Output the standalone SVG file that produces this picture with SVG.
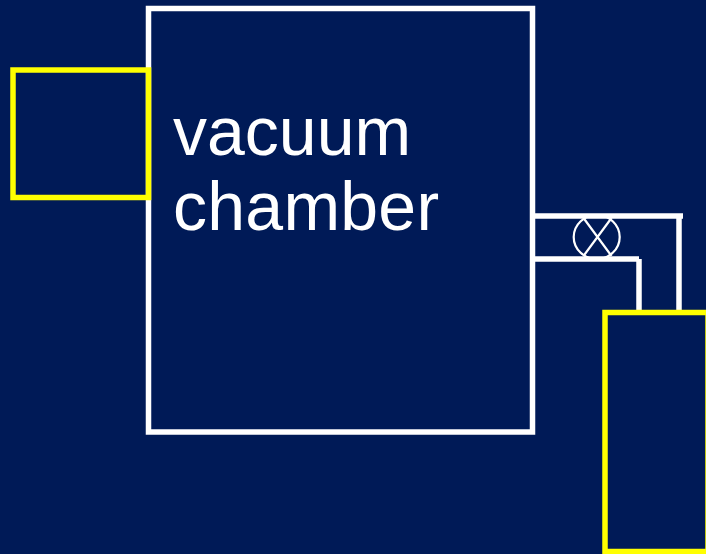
<svg xmlns="http://www.w3.org/2000/svg" width="706" height="554" viewBox="0 0 706 554">
<style>
.w{fill:none;stroke:#fff;stroke-width:5.5}
.y{fill:none;stroke:#ff0;stroke-width:5.5}
.v{fill:none;stroke:#fff;stroke-width:2.2}
.t{font-family:"Liberation Sans",Arial,sans-serif;font-size:68px;fill:#fff}
</style>
<rect width="706" height="554" fill="#001a57"/>
<g id="chamber"><rect class="w" x="148.5" y="8.5" width="384" height="423.5"/>
<text class="t" x="173" y="155">vacuum</text>
<text class="t" x="173" y="230" letter-spacing="0.25">chamber</text></g>
<g id="left-box"><rect class="y" x="13" y="70" width="135.5" height="127.5"/></g>
<g id="connectors">
<path class="w" d="M532.5 216H683M679 216V312M532.5 259H639M639 259V312"/>
</g>
<g id="valve"><ellipse class="v" cx="596.7" cy="237" rx="23" ry="22"/>
<path class="v" d="M583.5 218L611.5 256M611.5 218L583.5 256"/></g>
<g id="pump"><rect class="y" x="605" y="312.5" width="103" height="239"/></g>
</svg>
